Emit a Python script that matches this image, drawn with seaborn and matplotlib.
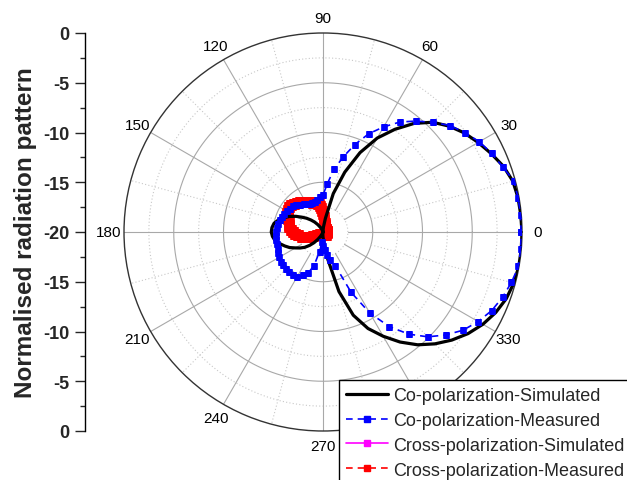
import numpy as np
import matplotlib
matplotlib.use("Agg")
import matplotlib.pyplot as plt
from matplotlib.lines import Line2D
from matplotlib.ticker import MultipleLocator
import seaborn as sns

# ---------------- data ----------------
series_labels = ["Co-polarization-Simulated", "Co-polarization-Measured",
                 "Cross-polarization-Simulated", "Cross-polarization-Measured"]

theta_ticks = [0, 30, 60, 90, 120, 150, 180, 210, 240, 270, 300, 330]
theta_labels = [str(t) for t in theta_ticks]

left_tick_pos = [-20, -15, -10, -5, 0, 5, 10, 15, 20]
left_tick_labels = ["0", "-5", "-10", "-15", "-20", "-15", "-10", "-5", "0"]

co_sim_angle = list(range(0, 365, 5))
co_sim_db = [0.0, -0.05, -0.1, -0.25, -0.7, -1.35, -2.0, -2.65, -3.45, -4.4,
             -5.75, -7.4, -9.1, -11.2, -13.6, -16.0, -18.6, -19.5, -19.9, -20.0,
             -20.0, -19.95, -19.85, -19.7, -19.45, -19.1, -18.7, -18.3, -17.85, -17.4,
             -16.85, -16.3, -15.8, -15.35, -15.0, -14.85, -14.8, -14.9, -15.1, -15.5,
             -15.9, -16.3, -16.8, -17.2, -17.6, -18.1, -18.6, -19.1, -19.5, -19.8,
             -19.95, -20.0, -19.95, -19.8, -19.5, -18.9, -17.2, -13.8, -11.1, -9.3,
             -7.9, -6.5, -5.2, -4.1, -3.1, -2.2, -1.45, -0.85, -0.4, -0.15,
             -0.02, 0.0, 0.0]

co_meas_angle = list(range(0, 365, 5))
co_meas_db = [-0.1, -0.06, -0.1, -0.15, -0.8, -1.3, -1.85, -2.6, -3.35, -4.4,
              -5.45, -6.5, -7.8, -9.1, -10.65, -12.2, -13.6, -15.15, -16.3, -16.5,
              -16.7, -16.85, -16.9, -16.9, -16.8, -16.6, -16.4, -16.2, -16.0, -15.9,
              -15.8, -15.7, -15.6, -15.5, -15.45, -15.4, -15.3, -15.3, -15.25, -15.2,
              -15.15, -15.0, -14.9, -14.8, -14.8, -14.8, -14.7, -14.7, -14.75, -15.2,
              -15.6, -16.5, -18.0, -19.0, -18.6, -18.2, -17.7, -17.1, -16.4, -13.3,
              -10.6, -8.4, -6.6, -5.1, -3.9, -2.8, -2.0, -1.3, -0.8, -0.4,
              -0.05, -0.05, -0.1]

cross_meas_angle = [0, 10, 20, 30, 40, 50, 60, 70, 75, 80, 84, 87, 90, 92, 94, 96, 98,
                    100, 104, 108, 112, 116, 120, 124, 128, 132, 136, 140, 144, 148,
                    152, 156, 160, 164, 168, 172, 176, 180, 184, 188, 192, 196, 200,
                    204, 208, 212, 220, 240, 260, 280, 300, 320, 340, 360]
cross_meas_db = [-19.6, -19.6, -19.6, -19.6, -19.6, -19.55, -19.5, -19.4, -19.3, -19.1,
                 -18.8, -18.5, -18.2, -17.9, -17.6, -17.35, -17.2,
                 -17.1, -17.0, -16.9, -16.8, -16.7, -16.55, -16.4, -16.2, -16.05,
                 -15.9, -15.8, -15.75, -15.8, -15.95, -16.1, -16.3, -16.4, -16.5,
                 -16.6, -16.8, -17.0, -17.2, -17.5, -17.8, -18.1, -18.5, -18.9,
                 -19.3, -19.5, -19.65, -19.7, -19.7, -19.7, -19.65, -19.6, -19.6, -19.6]

r_min, r_max = -20, 0

# ---------------- style ----------------
sns.set_style("white")
plt.rcParams['font.family'] = ['Liberation Sans', 'DejaVu Sans']

W, H = 627, 481
cx, cy, R = 323, 233, 199
fig = plt.figure(figsize=(W / 100, H / 100), dpi=100)

ax = fig.add_axes([(cx - R) / W, (H - cy - R) / H, 2 * R / W, 2 * R / H], projection='polar')
ax.set_ylim(r_min, r_max)
ax.grid(False)
ax.set_yticks([])
ax.set_xticks(np.deg2rad(theta_ticks))
ax.set_xticklabels(theta_labels, fontsize=11, color='black')
ax.tick_params(axis='x', pad=0.5)
ax.spines['polar'].set_color('#333333')
ax.spines['polar'].set_linewidth(1.0)
ax.set_facecolor('white')

# custom grid
full = np.linspace(0, 2 * np.pi, 721)
for r in [-15, -10, -5]:
    ax.plot(full, np.full_like(full, r), color='#a8a8a8', lw=0.8, zorder=1)
for r in [-17.5, -12.5, -7.5, -2.5]:
    ax.plot(full, np.full_like(full, r), color='#c8c8c8', lw=0.8, ls=(0, (1, 2)), zorder=1)
for a in range(0, 360, 30):
    ax.plot([np.deg2rad(a)] * 2, [-17.5, 0], color='#a8a8a8', lw=0.8, zorder=1)
for a in range(15, 360, 30):
    ax.plot([np.deg2rad(a)] * 2, [-15, 0], color='#c8c8c8', lw=0.8, ls=(0, (1, 2)), zorder=1)

# data series
sns.lineplot(x=np.deg2rad(cross_meas_angle), y=cross_meas_db, ax=ax, sort=False,
             estimator=None, color='red', lw=1.2, linestyle=(0, (4, 3)),
             marker='s', markersize=7, markeredgecolor='red', markeredgewidth=0.5,
             zorder=3, legend=False)
sns.lineplot(x=np.deg2rad(co_sim_angle), y=co_sim_db, ax=ax, sort=False,
             estimator=None, color='black', lw=2.3, zorder=4, legend=False)
sns.lineplot(x=np.deg2rad(co_meas_angle), y=co_meas_db, ax=ax, sort=False,
             estimator=None, color='#0000ff', lw=1.2, linestyle=(0, (4, 3)),
             marker='s', markersize=5, markeredgecolor='#0000ff', markeredgewidth=0.5,
             zorder=5, legend=False)
ax.set_xlabel('')
ax.set_ylabel('')

# left linear axis
ax2 = fig.add_axes([85 / W, (H - cy - R) / H, 0.0001, 2 * R / H])
for s in ['top', 'right', 'bottom']:
    ax2.spines[s].set_visible(False)
ax2.spines['left'].set_color('black')
ax2.spines['left'].set_linewidth(1.0)
ax2.set_ylim(-20, 20)
ax2.set_yticks(left_tick_pos)
ax2.set_yticklabels(left_tick_labels, fontweight='bold', fontsize=13)
ax2.yaxis.set_minor_locator(MultipleLocator(2.5))
ax2.tick_params(axis='y', which='major', direction='out', length=7, width=1, pad=4, left=True)
ax2.tick_params(axis='y', which='minor', direction='out', length=3.5, width=1, left=True)
ax2.set_xticks([])
ax2.patch.set_visible(False)
ax2.set_ylabel('Normalised radiation pattern', fontweight='bold', fontsize=17.5, labelpad=5)

# legend
handles = [
    Line2D([], [], color='black', lw=2.3),
    Line2D([], [], color='#0000ff', lw=1.2, ls=(0, (4, 3)), marker='s', markersize=5),
    Line2D([], [], color='magenta', lw=1.2, marker='s', markersize=5),
    Line2D([], [], color='red', lw=1.2, ls=(0, (4, 3)), marker='s', markersize=5),
]
leg = fig.legend(handles, series_labels, loc='upper left',
                 bbox_to_anchor=(339 / W, 1 - 381 / H), frameon=True, fancybox=False,
                 edgecolor='black', framealpha=1, fontsize=13, handlelength=2.3,
                 handletextpad=0.28, labelspacing=0.43, borderpad=0.4, borderaxespad=0)
leg.get_frame().set_linewidth(1.0)

fig.savefig('out.png', dpi=100)
